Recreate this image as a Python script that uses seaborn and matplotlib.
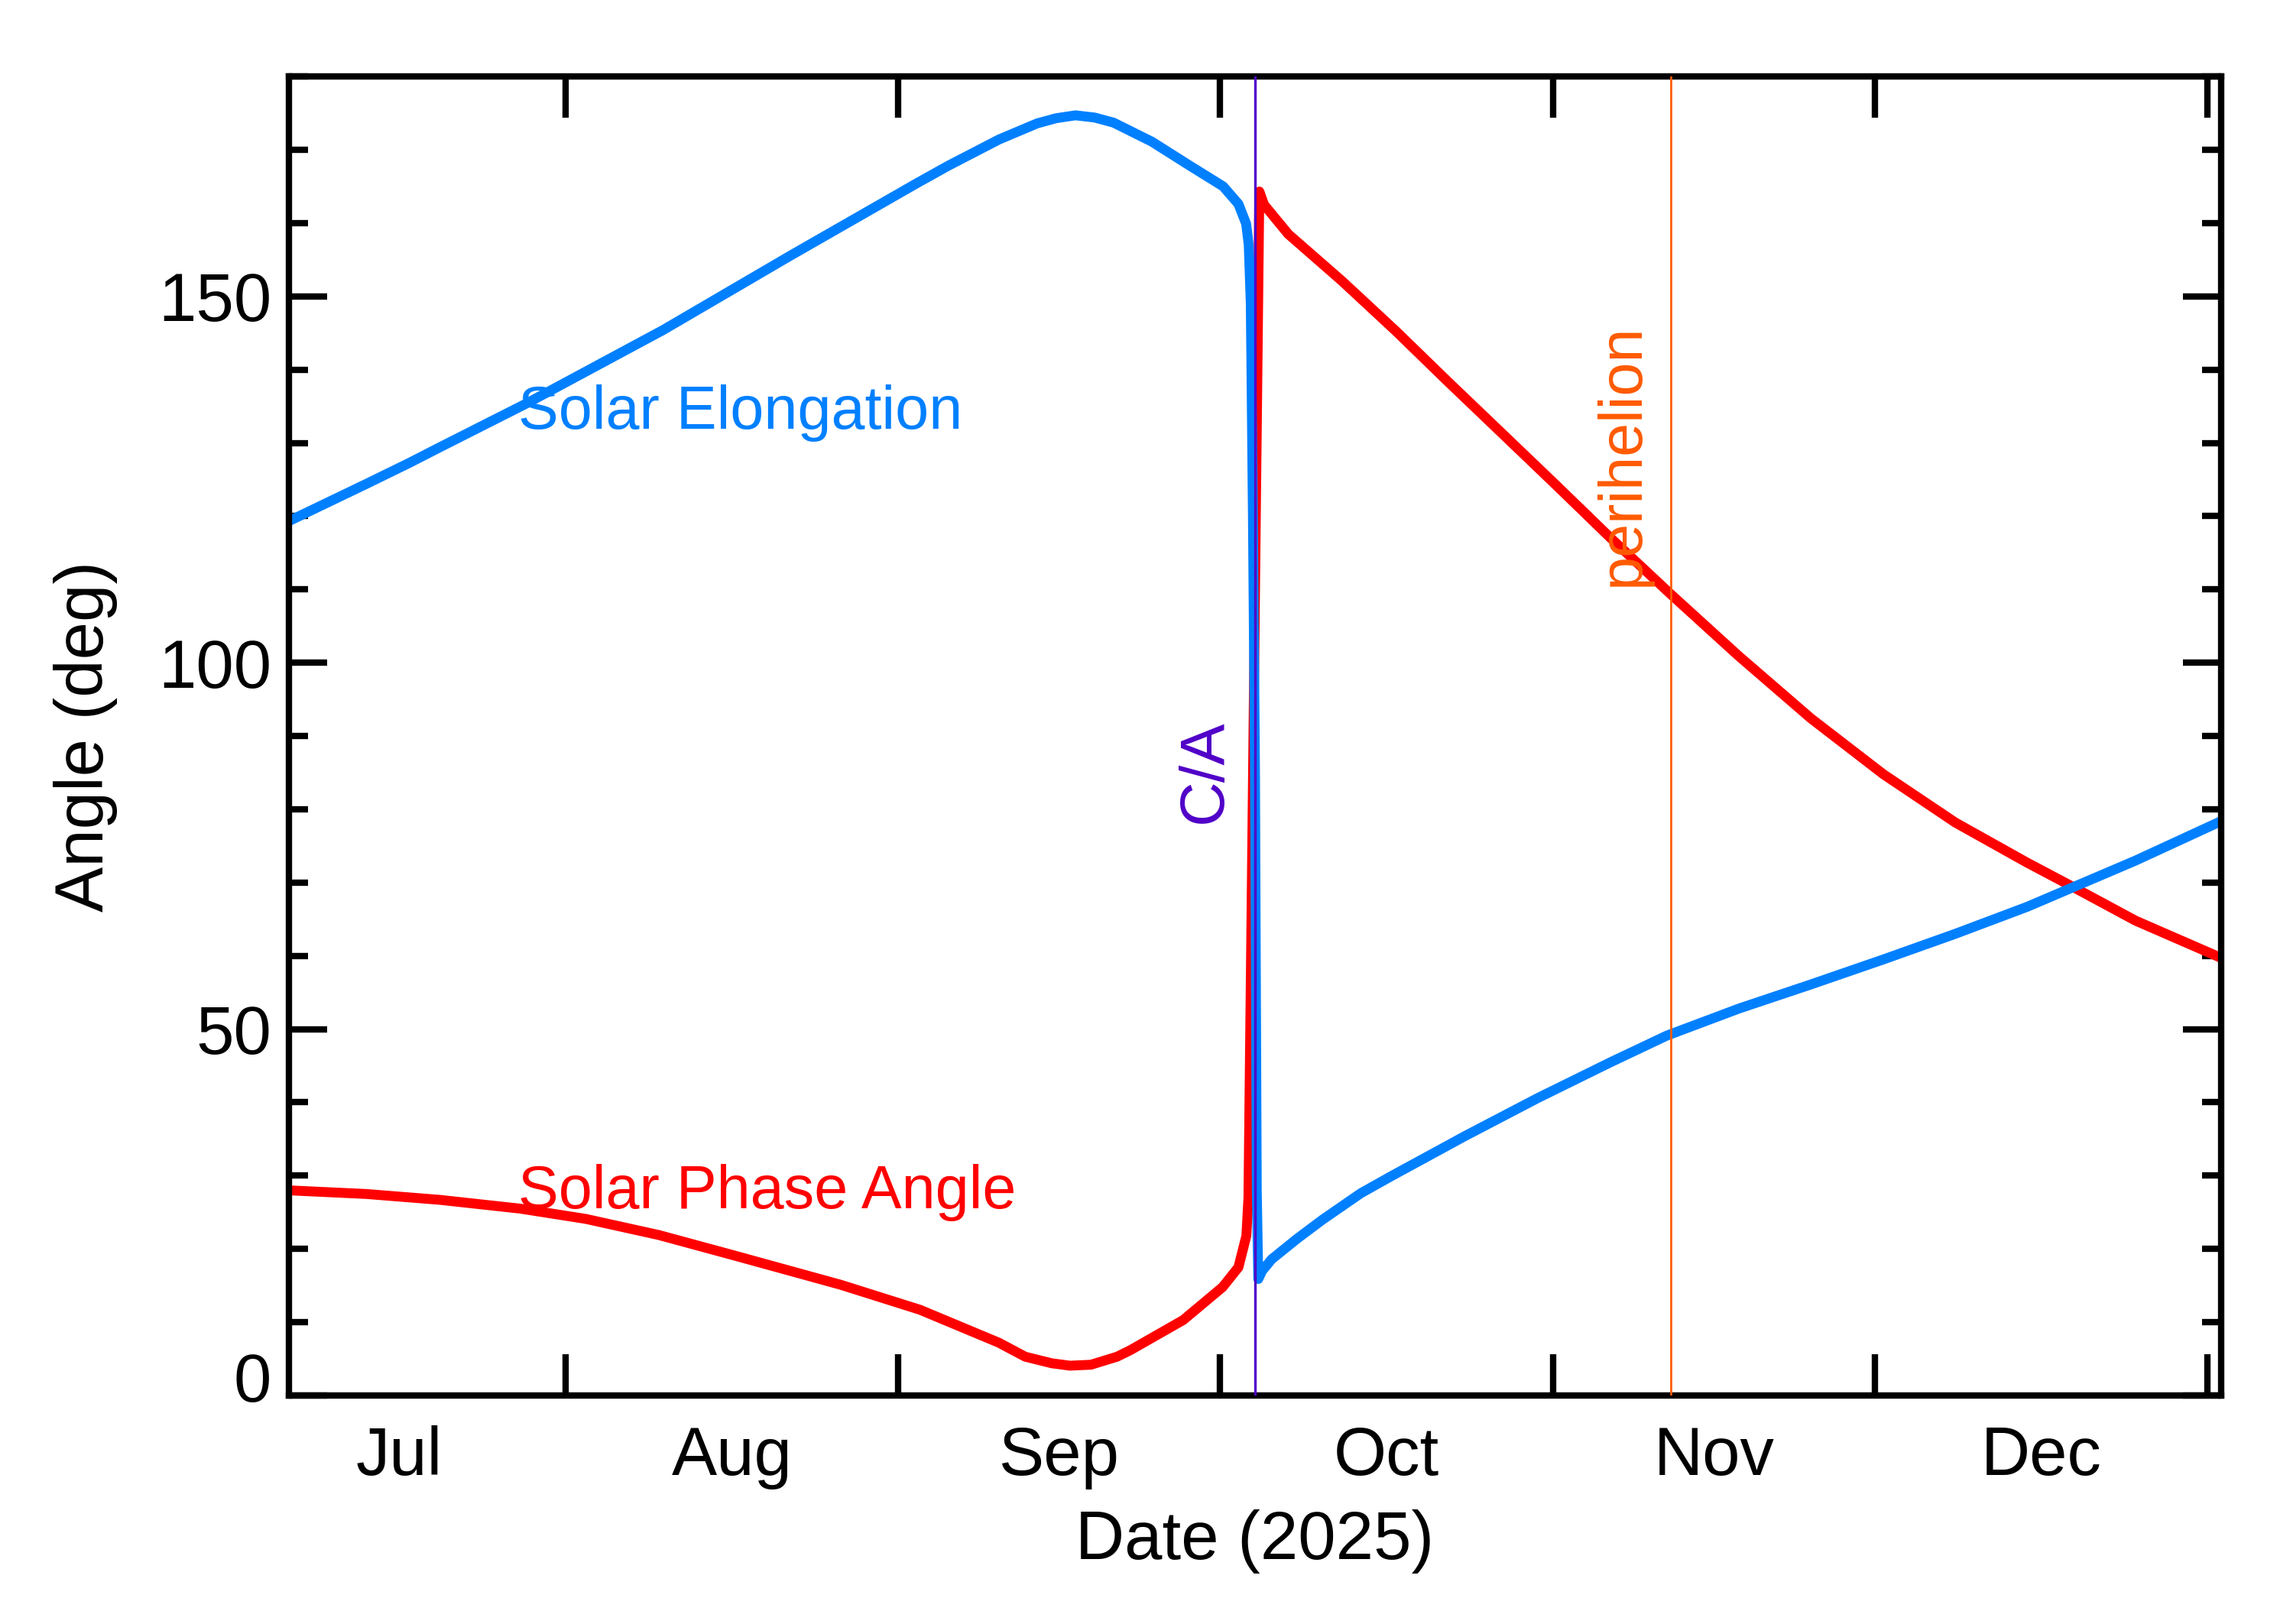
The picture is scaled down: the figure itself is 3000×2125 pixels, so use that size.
import pandas as pd
import matplotlib
matplotlib.use("Agg")
import matplotlib.pyplot as plt
import matplotlib.dates as mdates
from matplotlib.transforms import ScaledTranslation
from matplotlib.ticker import MultipleLocator, FixedLocator, FixedFormatter, NullFormatter
import seaborn as sns

# Days are counted from 2025-08-01 00:00
t0 = pd.Timestamp("2025-08-01")
ca_day = 64.24      # close approach
peri_day = 102.96   # perihelion
half_span = 90      # plot covers C/A +/- 90 days

elong_day = [-25.8, -18.55, -14.5, -11.7, -3.6, 9.1, 20.9, 32.7, 35.64, 40.39, 43.95,
             45.7, 47.51, 49.3, 51.07, 54.64, 58.2, 61.28, 62.7, 63.42, 63.66, 63.85,
             64.05, 64.24, 64.41, 64.55, 64.9, 65.8, 68.17, 70.54, 74.1, 76.9, 83.8,
             90.6, 97.4, 102.59, 109.32, 116.04, 122.77, 129.48, 136.2, 139.56, 146.28,
             154.28]
elong_deg = [119.3, 124.4, 127.3, 129.4, 135.4, 145.4, 155.5, 165.4, 167.8, 171.4, 173.6,
             174.3, 174.7, 174.4, 173.7, 171.1, 167.8, 165.0, 162.6, 159.9, 157.0, 149.0,
             120.0, 86.0, 28.0, 15.9, 17.0, 18.6, 21.4, 24.0, 27.6, 29.9, 35.4,
             40.6, 45.5, 49.1, 52.8, 56.1, 59.5, 63.0, 66.7, 68.8, 73.0,
             78.4]

phase_day = [-25.8, -18.55, -11.7, -4.2, 1.9, 8.7, 15.5, 25.67, 33.03, 40.39, 42.83,
             45.3, 47.0, 48.96, 51.4, 52.65, 57.56, 61.23, 62.7, 63.44, 63.63, 64.56,
             64.65, 65.09, 67.34, 72.34, 77.34, 82.33, 87.33, 92.32, 97.32, 102.94,
             109.32, 116.04, 122.77, 129.48, 136.2, 139.56, 146.28, 154.28]
phase_deg = [28.0, 27.5, 26.7, 25.5, 24.1, 21.9, 19.2, 15.1, 11.7, 7.2, 5.3,
             4.4, 4.07, 4.2, 5.3, 6.2, 10.3, 14.8, 17.5, 21.8, 27.0, 152.0,
             164.3, 162.5, 158.5, 152.1, 145.3, 138.2, 131.2, 124.2, 117.1, 109.4,
             100.9, 92.4, 84.8, 78.2, 72.7, 70.1, 64.8, 59.7]

month_names = ["Jul", "Aug", "Sep", "Oct", "Nov", "Dec"]
month_nums = [7, 8, 9, 10, 11, 12]

blue = "#0080FF"
red = "#FF0000"
ca_color = "#5000C8"
peri_color = "#FF5A00"


def to_date(days):
    return t0 + pd.to_timedelta(pd.Series(days, dtype=float), unit="D")


df = pd.concat([
    pd.DataFrame({"date": to_date(phase_day), "angle": phase_deg, "series": "Solar Phase Angle"}),
    pd.DataFrame({"date": to_date(elong_day), "angle": elong_deg, "series": "Solar Elongation"}),
], ignore_index=True)

sns.set_theme(style="ticks")
plt.rcParams["font.family"] = ["Liberation Sans", "DejaVu Sans"]
plt.rcParams["axes.linewidth"] = 2.0
for key in ["text.color", "axes.labelcolor", "xtick.color", "ytick.color",
            "xtick.labelcolor", "ytick.labelcolor", "axes.edgecolor"]:
    plt.rcParams[key] = "black"

fig, ax = plt.subplots(figsize=(10, 2125 / 300), dpi=300)
fig.subplots_adjust(left=0.126, right=0.9686, bottom=0.1407, top=0.9529)

sns.lineplot(data=df, x="date", y="angle", hue="series",
             hue_order=["Solar Phase Angle", "Solar Elongation"],
             palette={"Solar Phase Angle": red, "Solar Elongation": blue},
             estimator=None, linewidth=3.1, legend=False, ax=ax)

ca_date = t0 + pd.Timedelta(days=ca_day)
peri_date = t0 + pd.Timedelta(days=peri_day)
ax.axvline(ca_date, color=ca_color, linewidth=0.8, zorder=5)
ax.axvline(peri_date, color=peri_color, linewidth=0.65, zorder=5)

ax.text(t0 + pd.Timedelta(days=-4.37), 131.9, "Solar Elongation", color=blue,
        fontsize=19, ha="left", va="baseline")
ax.text(t0 + pd.Timedelta(days=-4.37), 25.6, "Solar Phase Angle", color=red,
        fontsize=19, ha="left", va="baseline")
ax.text(ca_date - pd.Timedelta(days=3.1), 85.2, "C/A", color=ca_color, fontsize=19.5,
        rotation=90, rotation_mode="anchor", ha="center", va="baseline")
ax.text(peri_date - pd.Timedelta(days=3.0), 128.4, "perihelion", color=peri_color,
        fontsize=19, rotation=90, rotation_mode="anchor", ha="center", va="baseline")

ax.set_xlim(ca_date - pd.Timedelta(days=half_span), ca_date + pd.Timedelta(days=half_span))
ax.set_ylim(0, 180)

# month boundaries as ticks, month names centred in between
ax.xaxis.set_major_locator(mdates.MonthLocator())
ax.xaxis.set_major_formatter(NullFormatter())
mids = []
for m in month_nums:
    start = pd.Timestamp(2025, m, 1)
    end = start + pd.offsets.MonthBegin(1)
    mids.append(mdates.date2num(start + (end - start) / 2))
ax.xaxis.set_minor_locator(FixedLocator(mids))
ax.xaxis.set_minor_formatter(FixedFormatter(month_names))
ax.tick_params(axis="x", which="major", direction="in", length=13, width=2,
               top=True, bottom=True)
ax.tick_params(axis="x", which="minor", length=0, pad=9.4, labelsize=21.3,
               top=False, bottom=True)

ax.yaxis.set_major_locator(MultipleLocator(50))
ax.yaxis.set_minor_locator(MultipleLocator(10))
ax.tick_params(axis="y", which="major", direction="in", length=12, width=2,
               left=True, right=True, labelsize=21.3, pad=5.5)
ax.tick_params(axis="y", which="minor", direction="in", length=6, width=2,
               left=True, right=True)

for s in ax.spines.values():
    s.set_visible(True)
    s.set_color("black")
    s.set_linewidth(2.0)

ax.set_xlabel("Date (2025)", fontsize=21.3)
ax.set_ylabel("Angle (deg)", fontsize=21.3)
ax.xaxis.set_label_coords(0.5, -0.0863)
ax.yaxis.set_label_coords(-0.0886, 0.5)

# the "0" label sits a little above the bottom axis in the original
fig.canvas.draw()
for tick in ax.yaxis.get_major_ticks():
    if abs(tick.get_loc()) < 1e-9:
        lab = tick.label1
        lab.set_transform(lab.get_transform() + ScaledTranslation(0, 6 / 72, fig.dpi_scale_trans))

fig.savefig("out.png", dpi=300, facecolor="white")
